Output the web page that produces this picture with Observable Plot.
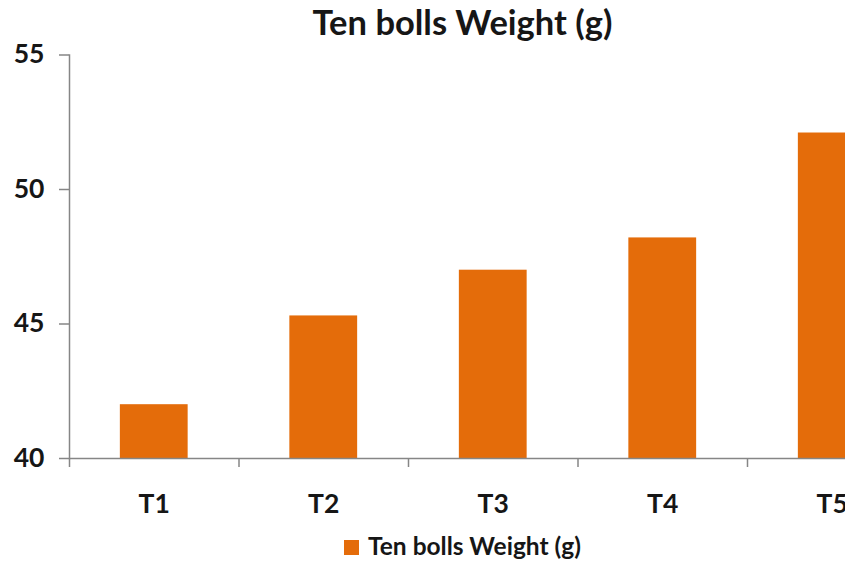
<!DOCTYPE html>
<html>
<head>
<meta charset="utf-8">
<script src="https://cdn.jsdelivr.net/npm/d3@7"></script>
<script src="https://cdn.jsdelivr.net/npm/@observablehq/plot@0.6"></script>
<style>
  html, body { margin: 0; padding: 0; background: #fff; overflow: hidden; }
  #wrap { width: 925px; font-family: Lato, "Open Sans", sans-serif; font-weight: bold; color: #161616; }
  #title { height: 44px; line-height: 44px; font-size: 34.5px; text-align: center; white-space: nowrap; }
  #legend { height: 40px; padding-top: 4px; line-height: 44px; font-size: 24.5px; text-align: center; white-space: nowrap; }
  #legend .swatch { display: inline-block; width: 15px; height: 15px; margin-right: 9px; vertical-align: 0px; }
  svg { overflow: visible; display: block; }
</style>
</head>
<body>
<div id="wrap">
  <div id="title"></div>
  <div id="chart"></div>
  <div id="legend"></div>
</div>
<script>
// Ten bolls weight per treatment
const chartTitle = "Ten bolls Weight (g)";
const seriesName = "Ten bolls Weight (g)";
const categories = ["T1", "T2", "T3", "T4", "T5"];
const weights = [42.0, 45.3, 47.0, 48.2, 52.1];
const yTicks = [40, 45, 50, 55];

const barColor = "#E46C0A";
const axisColor = "#868686";
const textColor = "#161616";

const data = categories.map((c, i) => ({category: c, weight: weights[i]}));

const width = 925;
const height = 476;
const marginLeft = 69;
const marginRight = 8.5;
const step = (width - marginLeft - marginRight) / categories.length;

const chart = Plot.plot({
  width,
  height,
  marginTop: 10.5,
  marginBottom: 62,
  marginLeft,
  marginRight,
  style: {
    fontFamily: "Lato, 'Open Sans', sans-serif",
    fontWeight: "bold",
    fontSize: "26.5px",
    color: textColor,
    background: "#fff",
    overflow: "visible"
  },
  x: {type: "band", domain: categories, paddingInner: 0.6, paddingOuter: 0.3, round: false, axis: null, label: null},
  y: {domain: [yTicks[0], yTicks[yTicks.length - 1]], axis: null, label: null},
  marks: [
    Plot.barY(data, {x: "category", y1: yTicks[0], y2: "weight", fill: barColor}),
    Plot.ruleY([yTicks[0]], {stroke: axisColor, strokeWidth: 1.5}),
    Plot.frame({anchor: "left", stroke: axisColor, strokeWidth: 1.5}),
    Plot.axisY({ticks: yTicks, tickSize: 10, tickPadding: 15, stroke: axisColor, fill: textColor, tickFormat: d => String(d), strokeWidth: 1.5}),
    // tick marks at the category boundaries
    Plot.axisX({tickSize: 9, tickFormat: () => "", dx: -step / 2, stroke: axisColor, strokeWidth: 1.5}),
    Plot.axisX({tickSize: 0, tickPadding: 36, fill: textColor})
  ]
});
document.getElementById("chart").appendChild(chart);

document.getElementById("title").textContent = chartTitle;
const legend = document.getElementById("legend");
const sw = document.createElement("span");
sw.className = "swatch";
sw.style.background = barColor;
legend.appendChild(sw);
legend.appendChild(document.createTextNode(seriesName));
</script>
</body>
</html>
